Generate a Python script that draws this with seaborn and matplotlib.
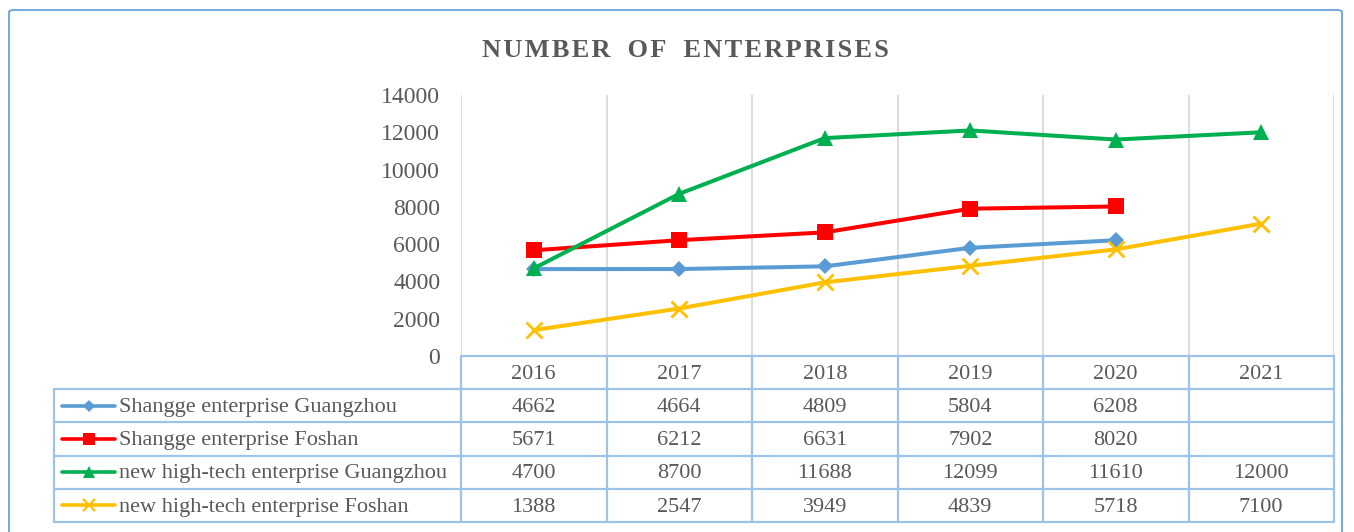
import matplotlib
matplotlib.use("Agg")
import matplotlib.pyplot as plt
import seaborn as sns
import numpy as np
import pandas as pd
from matplotlib.patches import FancyBboxPatch

years = ["2016", "2017", "2018", "2019", "2020", "2021"]
series_names = [
    "Shangge enterprise Guangzhou",
    "Shangge enterprise Foshan",
    "new high-tech enterprise Guangzhou",
    "new high-tech enterprise Foshan",
]
shangge_gz = [4662, 4664, 4809, 5804, 6208, np.nan]
shangge_fs = [5671, 6212, 6631, 7902, 8020, np.nan]
hitech_gz = [4700, 8700, 11688, 12099, 11610, 12000]
hitech_fs = [1388, 2547, 3949, 4839, 5718, 7100]
all_values = [shangge_gz, shangge_fs, hitech_gz, hitech_fs]
y_ticks = [0, 2000, 4000, 6000, 8000, 10000, 12000, 14000]
title = "NUMBER OF ENTERPRISES"

colors = ["#5B9BD5", "#FF0000", "#00B050", "#FFC000"]
markers = ["D", "s", "^", "x"]
msizes = [8, 12, 12, 11]
lmsizes = [6, 9, 9, 8]

sns.set_theme(style="white")
plt.rcParams["font.family"] = ["Liberation Serif", "DejaVu Serif"]
text_color = "#595959"

W, H = 1354, 532
fig = plt.figure(figsize=(W / 100, H / 100), dpi=100)
fig.patch.set_facecolor("white")

# outer border
border = FancyBboxPatch((9 / W, -0.05), (1342 - 9) / W, (H - 10) / H + 0.05,
                        boxstyle="round,pad=0,rounding_size=0.004",
                        transform=fig.transFigure, fill=False,
                        edgecolor="#5B9BD5", linewidth=1.2)
fig.patches.append(border)

words = ["\u200a".join(w) for w in title.split(" ")]
spaced = "\u2009 \u2009".join(words)
fig.text(685 / W, 1 - 48 / H, spaced, ha="center", va="center_baseline",
         fontsize=19, fontweight="bold", color=text_color)

# plot area
x0, x1 = 461, 1334
ytop, ybot = 95, 356
ax = fig.add_axes([x0 / W, 1 - ybot / H, (x1 - x0) / W, (ybot - ytop) / H])
pos = np.arange(len(years)) + 0.5
for vals, c, m, ms in zip(all_values, colors, markers, msizes):
    df = pd.DataFrame({"x": pos, "y": vals}).dropna()
    sns.lineplot(data=df, x="x", y="y", ax=ax, color=c, marker=m, markersize=ms,
                 markeredgecolor=c, markeredgewidth=2 if m == "x" else 0,
                 linewidth=2.9, legend=False)
ax.set_xlim(0, len(years))
ax.set_ylim(0, 14000)
ax.set_xticks(np.arange(len(years) + 1))
ax.set_xticklabels([])
ax.set_yticks(y_ticks)
ax.set_yticklabels([str(v) for v in y_ticks], fontsize=17, color=text_color)
ax.tick_params(axis="y", length=0, pad=15)
ax.tick_params(axis="x", length=0)
ax.grid(axis="x", color="#D9D9D9", linewidth=1.3)
ax.grid(axis="y", visible=False)
for s in ax.spines.values():
    s.set_visible(False)
ax.set_xlabel("")
ax.set_ylabel("")

# data table
tl, tr, ttop, tbot = 54, 1334, 356, 522
colw = (x1 - x0) / len(years)
xleft = -(x0 - tl) / colw
axt = fig.add_axes([tl / W, 1 - tbot / H, (tr - tl) / W, (tbot - ttop) / H])
nrows = len(series_names) + 1
axt.set_xlim(xleft, len(years))
axt.set_ylim(nrows, 0)
axt.axis("off")
lc = "#9DC3E6"
lw = 1.6
axt.plot([0, len(years)], [0, 0], color=lc, lw=lw, clip_on=False)
for r in range(1, nrows + 1):
    axt.plot([xleft, len(years)], [r, r], color=lc, lw=lw, clip_on=False)
axt.plot([xleft, xleft], [1, nrows], color=lc, lw=lw, clip_on=False)
for cidx in range(len(years) + 1):
    axt.plot([cidx, cidx], [0, nrows], color=lc, lw=lw, clip_on=False)

fs = 16
for j, yr in enumerate(years):
    axt.text(j + 0.5, 0.55, yr, ha="center", va="center", fontsize=fs, color=text_color)
k0 = (62 - x0) / colw
k1 = (115 - x0) / colw
kt = (119 - x0) / colw
for i, (name, vals, c, m, ms) in enumerate(zip(series_names, all_values, colors, markers, lmsizes)):
    r = i + 1.5
    axt.plot([k0, k1], [r, r], color=c, lw=2.6, solid_capstyle="round")
    axt.plot([(k0 + k1) / 2], [r], marker=m, color=c, markersize=ms,
             markeredgewidth=1.6 if m == "x" else 0, markeredgecolor=c)
    axt.text(kt, r + 0.05, name, ha="left", va="center", fontsize=fs, color=text_color)
    for j, v in enumerate(vals):
        if not np.isnan(v):
            axt.text(j + 0.5, r + 0.05, str(int(v)), ha="center", va="center",
                     fontsize=fs, color=text_color)

fig.savefig("out.png", dpi=100, facecolor="white")
